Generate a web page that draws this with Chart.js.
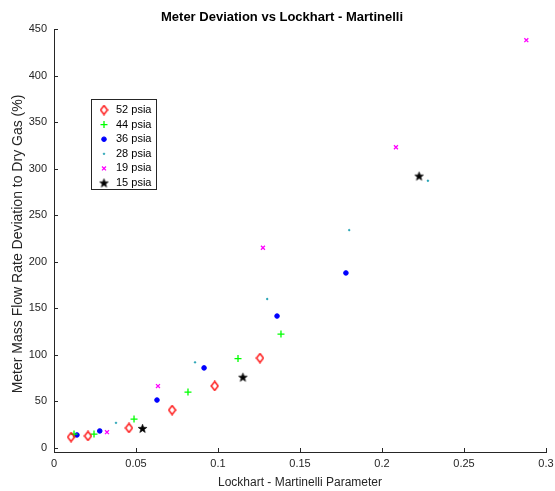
<!DOCTYPE html>
<html>
<head>
<meta charset="utf-8">
<script src="https://cdn.jsdelivr.net/npm/chart.js@4.4.0/dist/chart.umd.min.js"></script>
<style>
  body { margin: 0; background: #fff; }
  canvas { display: block; }
</style>
</head>
<body>
<canvas id="myChart" width="555" height="491"></canvas>
<script>
// values
const seriesLabels = ['52 psia', '44 psia', '36 psia', '28 psia', '19 psia', '15 psia'];

const x52 = [0.0104, 0.0207, 0.0457, 0.072, 0.098, 0.1256];
const y52 = [11.8, 12.9, 21.5, 40.8, 66.6, 96.6];

const x44 = [0.0122, 0.0244, 0.0488, 0.0817, 0.1122, 0.1384];
const y44 = [15.0, 15.0, 31.1, 60.1, 96.0, 122.4];

const x36 = [0.014, 0.0279, 0.0628, 0.0915, 0.136, 0.178];
const y36 = [14.0, 18.3, 51.5, 86.0, 141.7, 188.0];

const x28 = [0.0378, 0.086, 0.130, 0.180, 0.228];
const y28 = [27, 92, 160, 234, 287];

const x19 = [0.0323, 0.0634, 0.1274, 0.2085, 0.288];
const y19 = [17, 66.5, 215, 323, 438];

const x15 = [0.054, 0.1152, 0.2226];
const y15 = [21, 76, 292];

const xTicks = [0, 0.05, 0.1, 0.15, 0.2, 0.25, 0.3];
const xTickLabels = ['0', '0.05', '0.1', '0.15', '0.2', '0.25', '0.3'];
const yTicks = [0, 50, 100, 150, 200, 250, 300, 350, 400, 450];
const yTickLabels = ['0', '50', '100', '150', '200', '250', '300', '350', '400', '450'];

const FONT = "'Liberation Sans', Arial, Helvetica, sans-serif";
const AXIS_COLOR = '#262626';

function pairs(xs, ys) {
  return xs.map((x, i) => ({ x: x, y: ys[i] }));
}

// small marker images for shapes Chart.js does not have
function diamondMarker() {
  const c = document.createElement('canvas');
  c.width = 9; c.height = 11;
  const g = c.getContext('2d');
  g.strokeStyle = '#ff0000';
  g.lineWidth = 1.3;
  g.beginPath();
  g.moveTo(4.5, 1); g.lineTo(8, 5.5); g.lineTo(4.5, 10); g.lineTo(1, 5.5);
  g.closePath();
  g.stroke();
  return c;
}

function starMarker() {
  const c = document.createElement('canvas');
  c.width = 11; c.height = 11;
  const g = c.getContext('2d');
  g.fillStyle = '#000';
  g.strokeStyle = '#000';
  g.lineWidth = 0.6;
  g.beginPath();
  for (let i = 0; i < 10; i++) {
    const r = i % 2 === 0 ? 4.6 : 1.9;
    const a = -Math.PI / 2 + i * Math.PI / 5;
    const px = 5.5 + r * Math.cos(a), py = 5.8 + r * Math.sin(a);
    if (i === 0) g.moveTo(px, py); else g.lineTo(px, py);
  }
  g.closePath();
  g.fill();
  g.stroke();
  return c;
}

const diamondImg = diamondMarker();
const starImg = starMarker();

const datasets = [
  { label: seriesLabels[0], data: pairs(x52, y52), pointStyle: diamondImg, borderColor: '#ff0000', backgroundColor: 'rgba(0,0,0,0)', pointRadius: 4 },
  { label: seriesLabels[1], data: pairs(x44, y44), pointStyle: 'cross', borderColor: '#00ff00', backgroundColor: '#00ff00', pointRadius: 3.5, pointBorderWidth: 1.3 },
  { label: seriesLabels[2], data: pairs(x36, y36), pointStyle: 'circle', borderColor: '#0000ff', backgroundColor: '#0000ff', pointRadius: 2.3, pointBorderWidth: 1 },
  { label: seriesLabels[3], data: pairs(x28, y28), pointStyle: 'circle', borderColor: '#1a9fb0', backgroundColor: '#1a9fb0', pointRadius: 0.9, pointBorderWidth: 0.5 },
  { label: seriesLabels[4], data: pairs(x19, y19), pointStyle: 'crossRot', borderColor: '#ff00ff', backgroundColor: '#ff00ff', pointRadius: 2.8, pointBorderWidth: 1.3 },
  { label: seriesLabels[5], data: pairs(x15, y15), pointStyle: starImg, borderColor: '#000', backgroundColor: '#000', pointRadius: 4 }
];

// title, axis labels, inward ticks and the legend box
const decorations = {
  id: 'decorations',
  afterDraw(chart) {
    const ctx = chart.ctx;
    const xs = chart.scales.x, ys = chart.scales.y;
    ctx.save();

    ctx.strokeStyle = AXIS_COLOR;
    ctx.lineWidth = 1;
    ctx.beginPath();
    xTicks.forEach(v => {
      const px = Math.round(xs.getPixelForValue(v)) + 0.5;
      ctx.moveTo(px, ys.bottom);
      ctx.lineTo(px, ys.bottom - 4);
    });
    yTicks.forEach(v => {
      const py = Math.round(ys.getPixelForValue(v)) + 0.5;
      ctx.moveTo(xs.left, py);
      ctx.lineTo(xs.left + 4, py);
    });
    ctx.stroke();

    ctx.fillStyle = '#000';
    ctx.font = 'bold 13px ' + FONT;
    ctx.textAlign = 'center';
    ctx.textBaseline = 'middle';
    ctx.fillText('Meter Deviation vs Lockhart - Martinelli', 282, 17);

    ctx.fillStyle = AXIS_COLOR;
    ctx.font = '12px ' + FONT;
    ctx.fillText('Lockhart - Martinelli Parameter', (xs.left + xs.right) / 2, 483);

    ctx.font = '14px ' + FONT;
    ctx.translate(18, 244);
    ctx.rotate(-Math.PI / 2);
    ctx.fillText('Meter Mass Flow Rate Deviation to Dry Gas (%)', 0, 0);
    ctx.setTransform(1, 0, 0, 1, 0, 0);

    // legend
    const bx = 91, by = 99, bw = 65, bh = 90;
    ctx.fillStyle = '#fff';
    ctx.fillRect(bx, by, bw, bh);
    ctx.strokeStyle = AXIS_COLOR;
    ctx.strokeRect(bx + 0.5, by + 0.5, bw, bh);
    ctx.font = '11px ' + FONT;
    ctx.textAlign = 'left';
    chart.data.datasets.forEach((ds, i) => {
      const ly = 110 + i * 14.6;
      const style = ds.pointStyle;
      if (style instanceof HTMLCanvasElement) {
        ctx.drawImage(style, 104 - style.width / 2, ly - style.height / 2);
      } else if (Chart.helpers && Chart.helpers.drawPoint) {
        ctx.strokeStyle = ds.borderColor;
        ctx.fillStyle = ds.backgroundColor;
        ctx.lineWidth = ds.pointBorderWidth || 1;
        Chart.helpers.drawPoint(ctx, { pointStyle: style, radius: ds.pointRadius, rotation: 0, borderWidth: ds.pointBorderWidth }, 104, ly);
      }
      ctx.fillStyle = '#000';
      ctx.fillText(ds.label, 116, ly);
    });

    ctx.restore();
  }
};

const ctx = document.getElementById('myChart').getContext('2d');

const myChart = new Chart(ctx, {
  type: 'scatter',
  data: { datasets: datasets },
  options: {
    responsive: false,
    animation: false,
    layout: { padding: { top: 29, right: 9, left: 0, bottom: 0 } },
    plugins: {
      legend: { display: false },
      title: { display: false },
      tooltip: { enabled: false }
    },
    scales: {
      x: {
        type: 'linear',
        min: 0,
        max: 0.3,
        afterFit: scale => {
          scale.height = 39;
          scale.paddingLeft = 0;
          scale.paddingRight = 0;
        },
        afterBuildTicks: scale => { scale.ticks = xTicks.map(v => ({ value: v })); },
        grid: { display: false, drawTicks: false },
        border: { display: true, color: AXIS_COLOR, width: 1 },
        ticks: {
          color: AXIS_COLOR,
          font: { family: FONT, size: 11 },
          padding: 5,
          maxRotation: 0,
          callback: (v, i) => xTickLabels[i]
        }
      },
      y: {
        type: 'linear',
        min: -4.3,
        max: 450,
        afterFit: scale => {
          scale.width = 54;
          scale.paddingTop = 0;
          scale.paddingBottom = 0;
        },
        afterBuildTicks: scale => { scale.ticks = yTicks.map(v => ({ value: v })); },
        grid: { display: false, drawTicks: false },
        border: { display: true, color: AXIS_COLOR, width: 1 },
        ticks: {
          color: AXIS_COLOR,
          font: { family: FONT, size: 11 },
          padding: 7,
          callback: (v, i) => yTickLabels[i]
        }
      }
    }
  },
  plugins: [decorations]
});
</script>
</body>
</html>
